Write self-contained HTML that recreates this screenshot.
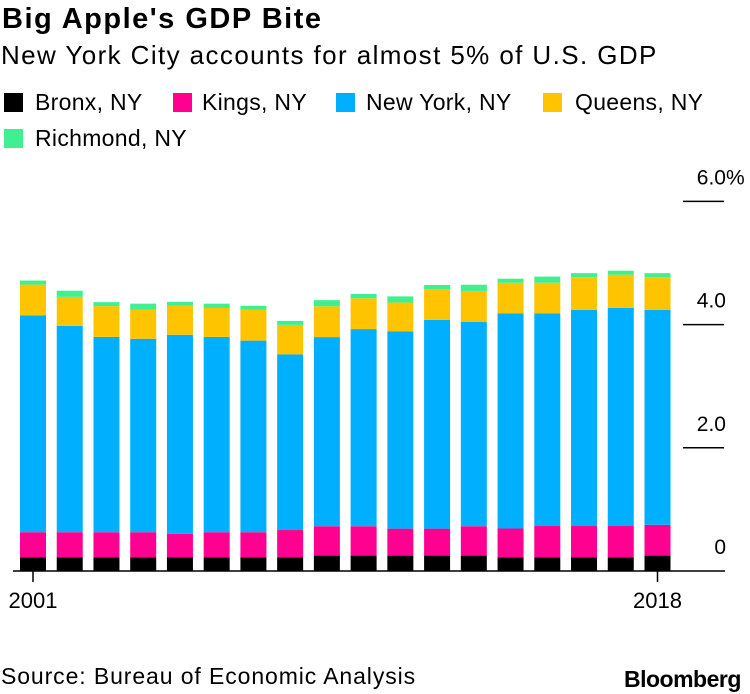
<!DOCTYPE html>
<html><head><meta charset="utf-8"><style>
body{margin:0;background:#fff;font-family:"Liberation Sans",sans-serif;color:#000}
#w{position:relative;width:750px;height:694px;overflow:hidden}
.t{position:absolute;white-space:nowrap}
.lg{position:absolute;font-size:23px;white-space:nowrap;line-height:23px;letter-spacing:0.3px}
.sq{position:absolute;width:19px;height:19px}
</style></head><body><div id="w">
<div class="t" style="left:2px;top:3px;font-size:29px;font-weight:bold;letter-spacing:1.5px">Big Apple's GDP Bite</div>
<div class="t" style="left:1px;top:40px;font-size:26px;letter-spacing:1.4px">New York City accounts for almost 5% of U.S. GDP</div>
<div class="sq" style="left:4px;top:93px;background:#000"></div>
<div class="lg" style="left:35px;top:91px">Bronx, NY</div>
<div class="sq" style="left:173px;top:93px;background:#ff0090"></div>
<div class="lg" style="left:202px;top:91px">Kings, NY</div>
<div class="sq" style="left:336px;top:93px;background:#00b0ff"></div>
<div class="lg" style="left:366px;top:91px">New York, NY</div>
<div class="sq" style="left:543px;top:93px;background:#ffc400"></div>
<div class="lg" style="left:575px;top:91px">Queens, NY</div>
<div class="sq" style="left:4px;top:129px;background:#40f090"></div>
<div class="lg" style="left:35px;top:127px">Richmond, NY</div>
<svg id="c" width="750" height="694" style="position:absolute;left:0;top:0"></svg>
<div class="t" style="left:1px;top:663px;font-size:23px;letter-spacing:0.9px">Source: Bureau of Economic Analysis</div>
<div class="t" style="left:624px;top:666px;font-size:23px;font-weight:bold;letter-spacing:-0.5px">Bloomberg</div>
</div>
<script>
const years=[2001,2002,2003,2004,2005,2006,2007,2008,2009,2010,2011,2012,2013,2014,2015,2016,2017,2018];
const bronx=[0.22,0.22,0.22,0.22,0.22,0.22,0.22,0.22,0.25,0.25,0.25,0.25,0.25,0.22,0.22,0.22,0.22,0.25];
const kings=[0.41,0.41,0.41,0.41,0.385,0.41,0.41,0.445,0.477,0.477,0.438,0.438,0.477,0.47,0.51,0.51,0.51,0.50];
const newYork=[3.52,3.35,3.17,3.14,3.23,3.17,3.11,2.85,3.07,3.20,3.20,3.39,3.32,3.49,3.45,3.51,3.54,3.49];
const queens=[0.50,0.47,0.50,0.47,0.47,0.47,0.50,0.48,0.50,0.50,0.47,0.50,0.50,0.50,0.50,0.53,0.54,0.53];
const richmond=[0.065,0.10,0.065,0.10,0.065,0.07,0.065,0.065,0.10,0.07,0.10,0.065,0.10,0.065,0.10,0.065,0.065,0.065];
const tickVals=[0,2,4,6];
const tickLabels=["0","2.0","4.0","6.0"];
const tickSuffix=["","","","%"];
const svg=document.getElementById('c'),NS="http://www.w3.org/2000/svg";
const y0=571,pxPer=61.6,x0=33,pitch=(657.5-33)/17,bw=26;
const y=v=>y0-v*pxPer, x=i=>x0+i*pitch;
function mk(t,a){const e=document.createElementNS(NS,t);for(const k in a)e.setAttribute(k,a[k]);svg.appendChild(e);return e;}
const series=[[bronx,'#000','bronx'],[kings,'#ff0090','kings'],[newYork,'#00b0ff','new-york'],[queens,'#ffc400','queens'],[richmond,'#40f090','richmond']];
years.forEach((yr,i)=>{let cum=0;series.forEach(([arr,col,nm])=>{const v=arr[i];
const r=mk('rect',{x:x(i)-bw/2,y:y(cum+v),width:bw,height:v*pxPer,fill:col});


cum+=v;});});
tickVals.forEach((v,i)=>{
if(v!==0){
const l=mk('line',{x1:683,x2:724,y1:y(v),y2:y(v),stroke:'#000','stroke-width':1.5});

}
const t=mk('text',{x:726,y:y(v)-17,'text-anchor':'end','font-size':21,'font-family':'Liberation Sans, sans-serif'});
t.textContent=tickLabels[i];


if(tickSuffix[i]){
const s=mk('text',{x:726,y:y(v)-17,'text-anchor':'start','font-size':21,'font-family':'Liberation Sans, sans-serif'});
s.textContent=tickSuffix[i];

}});
const ax=mk('line',{x1:13,x2:725,y1:y0,y2:y0,stroke:'#000','stroke-width':1.5});


[0,17].forEach(i=>{
const tl=mk('line',{x1:x(i),x2:x(i),y1:y0,y2:y0+11,stroke:'#000','stroke-width':1.5});


const t=mk('text',{x:x(i),y:608,'text-anchor':'middle','font-size':22,'font-family':'Liberation Sans, sans-serif'});
t.textContent=years[i];

});
</script></body></html>
